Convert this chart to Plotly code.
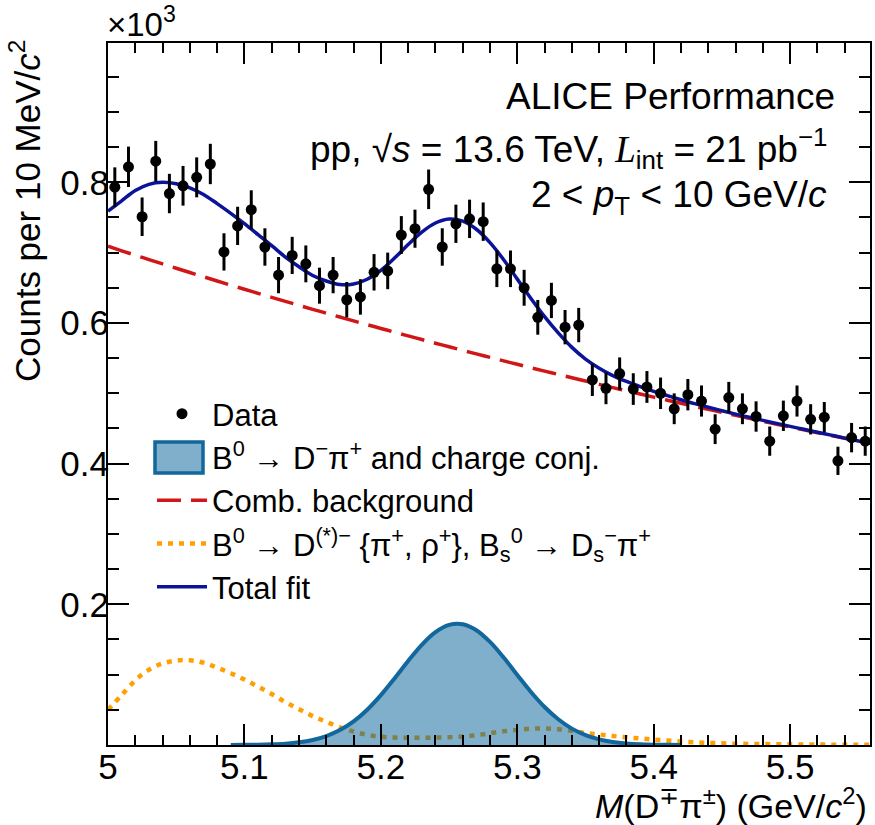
import plotly.graph_objects as go

# ---------------- data (values in units of 10^3 counts) ----------------
mass_bins = [5.005, 5.015, 5.025, 5.035, 5.045, 5.055, 5.065, 5.075, 5.085, 5.095,
             5.105, 5.115, 5.125, 5.135, 5.145, 5.155, 5.165, 5.175, 5.185, 5.195,
             5.205, 5.215, 5.225, 5.235, 5.245, 5.255, 5.265, 5.275, 5.285, 5.295,
             5.305, 5.315, 5.325, 5.335, 5.345, 5.355, 5.365, 5.375, 5.385, 5.395,
             5.405, 5.415, 5.425, 5.435, 5.445, 5.455, 5.465, 5.475, 5.485, 5.495,
             5.505, 5.515, 5.525, 5.535, 5.545, 5.555]
counts = [0.793, 0.822, 0.751, 0.830, 0.784, 0.795, 0.807, 0.826, 0.701, 0.738,
          0.761, 0.708, 0.668, 0.696, 0.684, 0.653, 0.668, 0.633, 0.637, 0.672,
          0.674, 0.725, 0.734, 0.790, 0.708, 0.741, 0.748, 0.744, 0.677, 0.677,
          0.650, 0.608, 0.632, 0.594, 0.597, 0.519, 0.507, 0.528, 0.506, 0.509,
          0.500, 0.478, 0.498, 0.489, 0.449, 0.494, 0.478, 0.467, 0.432, 0.468,
          0.489, 0.463, 0.466, 0.404, 0.437, 0.432]
count_errors = [0.0282, 0.0287, 0.0274, 0.0288, 0.0280, 0.0282, 0.0284, 0.0287, 0.0265, 0.0272,
                0.0276, 0.0266, 0.0258, 0.0264, 0.0262, 0.0256, 0.0258, 0.0252, 0.0252, 0.0259,
                0.0260, 0.0269, 0.0271, 0.0281, 0.0266, 0.0272, 0.0273, 0.0273, 0.0260, 0.0260,
                0.0255, 0.0247, 0.0251, 0.0244, 0.0244, 0.0228, 0.0225, 0.0230, 0.0225, 0.0226,
                0.0224, 0.0219, 0.0223, 0.0221, 0.0212, 0.0222, 0.0219, 0.0216, 0.0208, 0.0216,
                0.0221, 0.0215, 0.0216, 0.0201, 0.0209, 0.0208]

fit_mass = [5.00, 5.01, 5.02, 5.03, 5.04, 5.05, 5.06, 5.07, 5.08, 5.09,
            5.10, 5.11, 5.12, 5.13, 5.14, 5.15, 5.16, 5.17, 5.18, 5.19,
            5.20, 5.21, 5.22, 5.23, 5.24, 5.25, 5.26, 5.27, 5.28, 5.29,
            5.30, 5.31, 5.32, 5.33, 5.34, 5.35, 5.36, 5.37, 5.38, 5.39,
            5.40, 5.41, 5.42, 5.43, 5.44, 5.45, 5.46, 5.47, 5.48, 5.49,
            5.50, 5.51, 5.52, 5.53, 5.54, 5.55, 5.56]
comb_background = [0.7090, 0.7026, 0.6963, 0.6901, 0.6839, 0.6778, 0.6717, 0.6657, 0.6597, 0.6538,
                   0.6479, 0.6421, 0.6364, 0.6307, 0.6250, 0.6194, 0.6139, 0.6084, 0.6029, 0.5975,
                   0.5922, 0.5869, 0.5816, 0.5764, 0.5712, 0.5661, 0.5610, 0.5560, 0.5510, 0.5461,
                   0.5412, 0.5363, 0.5315, 0.5268, 0.5220, 0.5174, 0.5127, 0.5081, 0.5036, 0.4991,
                   0.4946, 0.4902, 0.4858, 0.4814, 0.4771, 0.4728, 0.4686, 0.4644, 0.4602, 0.4561,
                   0.4520, 0.4480, 0.4440, 0.4400, 0.4360, 0.4321, 0.4283]
reflections = [0.0500, 0.0710, 0.0920, 0.1070, 0.1160, 0.1200, 0.1205, 0.1170, 0.1100, 0.1020,
               0.0930, 0.0830, 0.0725, 0.0610, 0.0510, 0.0410, 0.0330, 0.0250, 0.0190, 0.0145,
               0.0117, 0.0106, 0.0103, 0.0103, 0.0105, 0.0110, 0.0120, 0.0140, 0.0167, 0.0195,
               0.0215, 0.0232, 0.0236, 0.0225, 0.0200, 0.0172, 0.0150, 0.0128, 0.0110, 0.0093,
               0.0077, 0.0063, 0.0050, 0.0039, 0.0030, 0.0024, 0.0018, 0.0015, 0.0013, 0.0011,
               0.0010, 0.0008, 0.0006, 0.0005, 0.0003, 0.0002, 0.0002]
total_fit = [0.7590, 0.7736, 0.7883, 0.7971, 0.7999, 0.7978, 0.7922, 0.7827, 0.7697, 0.7559,
             0.7411, 0.7255, 0.7098, 0.6936, 0.6798, 0.6675, 0.6596, 0.6546, 0.6555, 0.6622,
             0.6748, 0.6922, 0.7114, 0.7291, 0.7421, 0.7478, 0.7447, 0.7332, 0.7142, 0.6899,
             0.6623, 0.6349, 0.6091, 0.5859, 0.5653, 0.5487, 0.5357, 0.5252, 0.5168, 0.5095,
             0.5028, 0.4967, 0.4909, 0.4853, 0.4801, 0.4752, 0.4704, 0.4659, 0.4615, 0.4572,
             0.4530, 0.4488, 0.4446, 0.4405, 0.4363, 0.4323, 0.4285]

signal_mass = [5.09, 5.10, 5.11, 5.12, 5.13, 5.14, 5.15, 5.16, 5.17, 5.18,
               5.19, 5.20, 5.21, 5.22, 5.23, 5.24, 5.25, 5.26, 5.27, 5.28,
               5.29, 5.30, 5.31, 5.32, 5.33, 5.34, 5.35, 5.36, 5.37, 5.38,
               5.39, 5.40, 5.41, 5.42]
signal = [0.0001, 0.0002, 0.0004, 0.0009, 0.0019, 0.0038, 0.0071, 0.0127, 0.0212, 0.0336,
          0.0502, 0.0709, 0.0947, 0.1195, 0.1424, 0.1604, 0.1707, 0.1717, 0.1632, 0.1465,
          0.1243, 0.0996, 0.0754, 0.0540, 0.0366, 0.0233, 0.0141, 0.0080, 0.0043, 0.0022,
          0.0011, 0.0005, 0.0002, 0.0001]

x_tick_vals = [5.0, 5.1, 5.2, 5.3, 5.4, 5.5]
x_tick_text = ["5", "5.1", "5.2", "5.3", "5.4", "5.5"]
y_tick_vals = [0.0, 0.2, 0.4, 0.6, 0.8]
y_tick_text = ["", "0.2", "0.4", "0.6", "0.8"]

# ---------------- styling ----------------
FONT = "Liberation Sans, Arial, Helvetica, sans-serif"
C_TOTAL = "#0b1499"
C_BKG = "#d01616"
C_REFL = "#ffa000"
C_SIG_LINE = "#12679c"
C_SIG_FILL = "rgba(0,95,150,0.5)"

W, H = 875, 825
PLOT_L, PLOT_R, PLOT_T, PLOT_B = 108, 870, 43, 745      # window pixels of the frame
ML, MT, MR, MB = PLOT_L, PLOT_T, W - PLOT_R, H - PLOT_B
PW, PH = PLOT_R - PLOT_L, PLOT_B - PLOT_T


def px_x(px):
    return (px - PLOT_L) / PW


def px_y(py):
    return (PLOT_B - py) / PH


SIG_NAME = "B<sup>0</sup> → D<sup>−</sup>π<sup>+</sup> and charge conj."

fig = go.Figure()

fig.add_trace(go.Scatter(
    x=fit_mass, y=reflections, mode="lines", line_shape="spline",
    line=dict(color=C_REFL, width=4.5, dash="5px,6px"),
    name="B<sup>0</sup> → D<sup>(*)−</sup> {π<sup>+</sup>, ρ<sup>+</sup>}, "
         "B<sub>s</sub><sup>0</sup> → D<sub>s</sub><sup>−</sup>π<sup>+</sup>",
    legendrank=4))

fig.add_trace(go.Scatter(
    x=signal_mass, y=signal, mode="lines", line_shape="spline",
    fill="tozeroy", fillcolor=C_SIG_FILL,
    line=dict(color=C_SIG_LINE, width=4),
    name=SIG_NAME, showlegend=False))

# legend entry for the signal; its key is the box drawn below
fig.add_trace(go.Scatter(
    x=[None], y=[None], mode="lines",
    line=dict(color="rgba(0,0,0,0)", width=0),
    name=SIG_NAME, legendrank=2, hoverinfo="skip"))

fig.add_trace(go.Scatter(
    x=fit_mass, y=comb_background, mode="lines", line_shape="spline",
    line=dict(color=C_BKG, width=3.5, dash="24px,10px"),
    name="Comb. background", legendrank=3))

fig.add_trace(go.Scatter(
    x=fit_mass, y=total_fit, mode="lines", line_shape="spline",
    line=dict(color=C_TOTAL, width=3.5),
    name="Total fit", legendrank=5))

fig.add_trace(go.Scatter(
    x=mass_bins, y=counts, mode="markers",
    marker=dict(color="black", size=11, symbol="circle"),
    error_y=dict(type="data", array=count_errors, color="black", thickness=3, width=0),
    name="Data", legendrank=1))

axis_common = dict(
    showline=True, linecolor="black", linewidth=2, mirror="allticks",
    ticks="inside", tickcolor="black", tickwidth=1.5, ticklen=21,
    showgrid=False, zeroline=False, automargin=False,
    tickfont=dict(family=FONT, size=35, color="black"),
    ticklabelstandoff=-10,
)

fig.update_xaxes(
    range=[5.0, 5.5585], tickvals=x_tick_vals, ticktext=x_tick_text,
    minor=dict(ticks="inside", dtick=0.02, tick0=5.0, ticklen=10,
               tickcolor="black", tickwidth=1.5, showgrid=False),
    **axis_common)
fig.update_yaxes(
    range=[0, 0.998], tickvals=y_tick_vals, ticktext=y_tick_text,
    minor=dict(ticks="inside", dtick=0.05, tick0=0, ticklen=11,
               tickcolor="black", tickwidth=1.5, showgrid=False),
    **axis_common)

annotations = [
    dict(text="ALICE Performance", x=px_x(837), y=px_y(96),
         xanchor="right", yanchor="middle", font=dict(size=37)),
    dict(text="pp, √<i>s</i> = 13.6 TeV, "
              "<span style='font-family:Liberation Serif'><i>L</i></span><sub>int</sub>"
              " = 21 pb<sup>−1</sup>",
         x=px_x(829), y=px_y(148), xanchor="right", yanchor="middle", font=dict(size=37)),
    dict(text="2 &lt; <i>p</i><sub>T</sub> &lt; 10 GeV/<i>c</i>",
         x=px_x(829), y=px_y(197), xanchor="right", yanchor="middle", font=dict(size=37)),
    dict(text="×10<sup>3</sup>", x=px_x(105), y=px_y(22),
         xanchor="left", yanchor="middle", font=dict(size=33)),
    dict(text="Counts per 10 MeV/<i>c</i><sup>2</sup>", textangle=-90,
         x=px_x(25), y=px_y(38), xanchor="center", yanchor="top", font=dict(size=35)),
    dict(text="<i>M</i>(D<sup>∓</sup>π<sup>±</sup>) (GeV/<i>c</i><sup>2</sup>)",
         x=px_x(869), y=px_y(803), xanchor="right", yanchor="middle", font=dict(size=34)),
]
for a in annotations:
    a.update(xref="paper", yref="paper", showarrow=False)
    a["font"].update(family=FONT, color="black")

# legend key box for the signal component
shapes = [dict(type="rect", xref="paper", yref="paper",
               x0=px_x(155), x1=px_x(203), y0=px_y(473), y1=px_y(442),
               fillcolor=C_SIG_FILL, line=dict(color=C_SIG_LINE, width=3.5),
               layer="above")]

fig.update_layout(
    width=W, height=H,
    margin=dict(l=ML, r=MR, t=MT, b=MB, pad=0),
    paper_bgcolor="white", plot_bgcolor="white",
    font=dict(family=FONT, color="black"),
    annotations=annotations,
    shapes=shapes,
    showlegend=True,
    legend=dict(x=px_x(152), y=px_y(387), xanchor="left", yanchor="top",
                bgcolor="rgba(0,0,0,0)", borderwidth=0,
                font=dict(family=FONT, size=31, color="black"),
                itemwidth=50, tracegroupgap=0),
)

# remove the default 8 px page margin so the 875x825 figure fills the window
fig.write_html("out.html", config={"displayModeBar": False},
               post_script="document.body.style.margin='0px';")
